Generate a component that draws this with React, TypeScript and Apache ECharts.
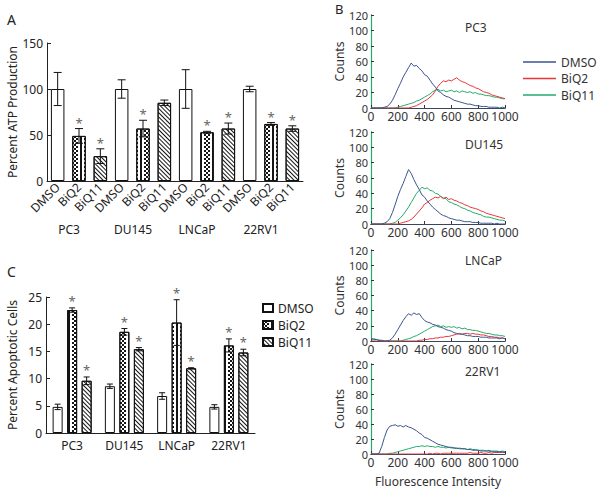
import React, { useEffect, useRef } from 'react';
import * as echarts from 'echarts';

const FONT = '"Noto Sans", sans-serif';
const INK = '#222';

// ---------- Panel A: ATP production ----------
const treatments = ['DMSO', 'BiQ2', 'BiQ11'];
const cellLines = ['PC3', 'DU145', 'LNCaP', '22RV1'];
const atpDMSO = [100, 100, 100, 100];
const atpDMSOErr = [18, 10, 21, 3];
const atpBiQ2 = [49, 57, 53, 62];
const atpBiQ2Err = [8, 9, 1, 1.5];
const atpBiQ11 = [27, 85, 57, 57];
const atpBiQ11Err = [8, 3, 6, 3];
const atpBiQ2Sig = [1, 1, 1, 1];
const atpBiQ11Sig = [1, 0, 1, 1];

// ---------- Panel C: apoptotic cells ----------
const apoDMSO = [4.8, 8.6, 6.8, 4.8];
const apoDMSOErr = [0.5, 0.4, 0.6, 0.4];
const apoBiQ2 = [22.6, 18.6, 20.3, 16.1];
const apoBiQ2Err = [0.4, 0.6, 4.2, 1.2];
const apoBiQ11 = [9.6, 15.4, 11.9, 14.8];
const apoBiQ11Err = [0.7, 0.3, 0.1, 0.6];

// ---------- Panel B: flow histograms ----------
const intensityBins = [0, 20, 40, 60, 80, 100, 120, 140, 160, 180, 200, 220, 240, 260, 280, 300, 320, 340, 360, 380, 400, 420, 440, 460, 480, 500, 520, 540, 560, 580, 600, 620, 640, 660, 680, 700, 720, 740, 760, 780, 800, 820, 840, 860, 880, 900, 920, 940, 960, 980, 1000];

const pc3DMSO = [0, 0, 0, 0, 0, 1, 2, 5, 10, 17, 25, 32, 40, 46, 52, 58, 54, 55, 51, 48, 43, 41, 36, 31, 27, 22, 20, 17, 15, 14, 12, 10, 9, 8, 7, 6, 5, 5, 4, 3, 3, 2, 2, 2, 1, 1, 1, 1, 0, 1, 0];
const pc3BiQ2 = [0, 0, 0, 0, 0, 0, 0, 0, 0, 0, 0, 0, 0, 0, 0, 1, 2, 3, 5, 7, 9, 11, 14, 17, 22, 28, 32, 35, 34, 36, 35, 37, 39, 36, 34, 33, 31, 29, 28, 26, 25, 23, 21, 20, 19, 17, 16, 15, 14, 13, 12];
const pc3BiQ11 = [0, 0, 0, 0, 0, 0, 0, 0, 0, 0, 1, 2, 3, 4, 5, 6, 7, 9, 10, 12, 14, 16, 18, 21, 23, 24, 22, 23, 21, 22, 23, 21, 22, 20, 22, 21, 20, 21, 19, 20, 18, 18, 17, 16, 16, 15, 14, 14, 13, 12, 12];

const du145DMSO = [0, 0, 0, 0, 0, 1, 3, 7, 15, 25, 36, 45, 53, 62, 71, 66, 58, 51, 45, 38, 35, 30, 26, 22, 19, 16, 13, 11, 10, 8, 7, 6, 5, 5, 4, 3, 3, 3, 2, 2, 2, 1, 1, 1, 1, 1, 0, 1, 0, 0, 0];
const du145BiQ2 = [0, 0, 0, 0, 0, 0, 0, 0, 0, 0, 0, 1, 2, 3, 4, 6, 9, 13, 17, 21, 26, 28, 31, 33, 35, 34, 36, 33, 35, 32, 33, 31, 30, 28, 27, 25, 24, 22, 21, 20, 19, 17, 16, 14, 13, 12, 11, 10, 9, 8, 7];
const du145BiQ11 = [0, 0, 0, 0, 0, 0, 0, 0, 1, 2, 5, 8, 12, 17, 22, 28, 34, 40, 44, 48, 46, 47, 44, 43, 40, 39, 36, 34, 33, 29, 28, 26, 25, 23, 21, 20, 18, 17, 15, 14, 13, 12, 10, 9, 9, 8, 7, 6, 5, 5, 4];

const lncapDMSO = [3, 2, 2, 1, 1, 0, 0, 1, 4, 9, 15, 21, 27, 32, 36, 34, 37, 35, 36, 31, 27, 25, 24, 22, 21, 19, 18, 17, 15, 14, 13, 11, 10, 9, 9, 8, 7, 7, 6, 6, 6, 5, 5, 5, 4, 4, 4, 4, 3, 4, 3];
const lncapBiQ2 = [0, 0, 0, 0, 0, 0, 0, 0, 0, 0, 0, 0, 0, 0, 0, 0, 0, 0, 1, 1, 2, 2, 3, 3, 4, 4, 5, 5, 6, 6, 7, 8, 9, 10, 9, 10, 10, 9, 10, 9, 9, 8, 8, 7, 6, 6, 5, 5, 4, 4, 3];
const lncapBiQ11 = [3, 3, 2, 1, 0, 0, 0, 0, 0, 0, 0, 0, 1, 2, 3, 4, 6, 7, 9, 11, 13, 15, 17, 19, 20, 21, 19, 20, 18, 19, 18, 19, 17, 18, 16, 17, 15, 15, 14, 14, 13, 12, 11, 10, 10, 9, 8, 8, 7, 7, 6];

const rv1DMSO = [0, 0, 0, 1, 10, 22, 32, 37, 38, 39, 37, 38, 36, 38, 36, 35, 33, 31, 28, 26, 22, 21, 19, 17, 15, 13, 12, 11, 10, 9, 9, 8, 8, 7, 7, 7, 6, 6, 5, 5, 5, 4, 4, 4, 4, 3, 3, 3, 3, 3, 2];
const rv1BiQ2 = [0, 0, 0, 0, 0, 0, 0, 0, 0, 0, 0, 0, 0, 0, 0, 0, 0, 0, 0, 0, 0, 0, 1, 0, 1, 1, 0, 1, 1, 1, 1, 1, 1, 1, 1, 1, 1, 2, 1, 1, 1, 2, 1, 1, 2, 1, 2, 2, 2, 2, 2];
const rv1BiQ11 = [0, 0, 0, 0, 0, 0, 0, 1, 1, 2, 3, 4, 5, 6, 7, 8, 9, 10, 10, 11, 10, 11, 10, 10, 9, 10, 9, 9, 8, 9, 8, 8, 7, 8, 7, 7, 6, 7, 6, 6, 5, 5, 5, 4, 5, 4, 4, 4, 3, 4, 3];

const histPanels = [
  { label: 'PC3', dmso: pc3DMSO, biq2: pc3BiQ2, biq11: pc3BiQ11 },
  { label: 'DU145', dmso: du145DMSO, biq2: du145BiQ2, biq11: du145BiQ11 },
  { label: 'LNCaP', dmso: lncapDMSO, biq2: lncapBiQ2, biq11: lncapBiQ11 },
  { label: '22RV1', dmso: rv1DMSO, biq2: rv1BiQ2, biq11: rv1BiQ11 },
];

const BLUE = '#3b5590';
const RED = '#e8353a';
const GREEN = '#22ac6b';

const checkDecal = {
  symbol: 'rect', symbolSize: 1, color: '#151515', backgroundColor: '#ffffff',
  dashArrayX: [[2, 1.5], [0, 1.75, 2, 1.25]], dashArrayY: [1.75, 0], rotation: 0,
};
const stripeDecal = {
  symbol: 'rect', symbolSize: 1, color: '#151515', backgroundColor: '#ffffff',
  dashArrayX: [1, 0], dashArrayY: [1, 1.5], rotation: Math.PI / 4,
};

function errRender(offset: number, cap: number, starGap: number) {
  return (params: any, api: any) => {
    const c = api.value(0);
    const top = api.coord([c, api.value(2)]);
    const bot = api.coord([c, api.value(1)]);
    const x = top[0] + offset;
    const ls = { stroke: '#111', lineWidth: 1 };
    const children: any[] = [
      { type: 'line', shape: { x1: x, y1: top[1], x2: x, y2: bot[1] }, style: ls },
      { type: 'line', shape: { x1: x - cap, y1: top[1], x2: x + cap, y2: top[1] }, style: ls },
      { type: 'line', shape: { x1: x - cap, y1: bot[1], x2: x + cap, y2: bot[1] }, style: ls },
    ];
    if (api.value(3)) {
      children.push({
        type: 'text',
        style: { text: '*', x, y: top[1] - starGap, align: 'center', verticalAlign: 'middle', fill: '#666', font: `13px ${FONT}` },
      });
    }
    return { type: 'group', children };
  };
}

function buildOption() {
  const atpCats: string[] = [];
  cellLines.forEach((cl) => treatments.forEach((t) => atpCats.push(cl + '|' + t)));
  const slot = (vals: number[], s: number) => atpCats.map((_, i) => (i % 3 === s ? vals[Math.floor(i / 3)] : '-'));

  const atpErrData: any[] = [];
  cellLines.forEach((_, g) => {
    atpErrData.push([g * 3, atpDMSO[g] - atpDMSOErr[g], atpDMSO[g] + atpDMSOErr[g], 0]);
    atpErrData.push([g * 3 + 1, atpBiQ2[g] - atpBiQ2Err[g], atpBiQ2[g] + atpBiQ2Err[g], atpBiQ2Sig[g]]);
    atpErrData.push([g * 3 + 2, atpBiQ11[g] - atpBiQ11Err[g], atpBiQ11[g] + atpBiQ11Err[g], atpBiQ11Sig[g]]);
  });

  const axLine = { show: true, lineStyle: { color: INK, width: 1 } };
  const lbl = { color: INK, fontFamily: FONT, fontSize: 12 };

  const grid: any[] = [
    { left: 47, top: 43, width: 256, height: 138 },
    { left: 46, top: 297, width: 209, height: 136 },
    { left: 371, top: 15, width: 134, height: 93 },
    { left: 371, top: 132, width: 134, height: 92 },
    { left: 371, top: 250, width: 134, height: 91 },
    { left: 371, top: 364, width: 134, height: 90 },
  ];

  const xAxis: any[] = [
    {
      type: 'category', gridIndex: 0, data: atpCats, axisLine: axLine, axisTick: { show: false },
      axisLabel: { ...lbl, rotate: 45, margin: 4, interval: 0, formatter: (v: string) => v.split('|')[1] },
    },
    {
      type: 'category', gridIndex: 0, data: cellLines, position: 'bottom', offset: 40,
      axisLine: { show: false }, axisTick: { show: false },
      axisLabel: { ...lbl, margin: 2, padding: [0, 20, 0, 0] },
    },
    {
      type: 'category', gridIndex: 1, data: cellLines, axisLine: axLine, axisTick: { show: false },
      axisLabel: { ...lbl, margin: 6 },
    },
  ];
  const yAxis: any[] = [
    {
      type: 'value', gridIndex: 0, min: 0, max: 150, interval: 50, axisLine: axLine,
      axisTick: { show: true, inside: true, length: 4, lineStyle: { color: INK } }, splitLine: { show: false },
      axisLabel: { ...lbl, margin: 4 },
      name: 'Percent ATP Production', nameLocation: 'middle', nameGap: 28, nameTextStyle: { ...lbl },
    },
    {
      type: 'value', gridIndex: 1, min: 0, max: 25, interval: 5, axisLine: axLine,
      axisTick: { show: true, inside: true, length: 4, lineStyle: { color: INK } }, splitLine: { show: false },
      axisLabel: { ...lbl, margin: 4 },
      name: 'Percent Apoptotic Cells', nameLocation: 'middle', nameGap: 28, nameTextStyle: { ...lbl },
    },
  ];

  const series: any[] = [
    { type: 'bar', name: 'ATP DMSO', xAxisIndex: 0, yAxisIndex: 0, data: slot(atpDMSO, 0), barWidth: 13.5, barGap: '-100%', itemStyle: { color: '#fff', borderColor: '#111', borderWidth: 1 } },
    { type: 'bar', name: 'ATP BiQ2', xAxisIndex: 0, yAxisIndex: 0, data: slot(atpBiQ2, 1), barWidth: 13.5, barGap: '-100%', itemStyle: { color: '#fff', borderColor: '#111', borderWidth: 1, decal: checkDecal } },
    { type: 'bar', name: 'ATP BiQ11', xAxisIndex: 0, yAxisIndex: 0, data: slot(atpBiQ11, 2), barWidth: 13.5, barGap: '-100%', itemStyle: { color: '#fff', borderColor: '#111', borderWidth: 1, decal: stripeDecal } },
    { type: 'custom', name: 'ATP err', xAxisIndex: 0, yAxisIndex: 0, data: atpErrData, encode: { x: 0, y: [1, 2] }, renderItem: errRender(0, 4, 6), z: 5 },

    { type: 'bar', name: 'DMSO', xAxisIndex: 2, yAxisIndex: 1, data: apoDMSO, barWidth: 10, barGap: '45%', itemStyle: { color: '#fff', borderColor: '#111', borderWidth: 1 } },
    { type: 'bar', name: 'BiQ2', xAxisIndex: 2, yAxisIndex: 1, data: apoBiQ2, barWidth: 10, barGap: '45%', itemStyle: { color: '#fff', borderColor: '#111', borderWidth: 1, decal: checkDecal } },
    { type: 'bar', name: 'BiQ11', xAxisIndex: 2, yAxisIndex: 1, data: apoBiQ11, barWidth: 10, barGap: '45%', itemStyle: { color: '#fff', borderColor: '#111', borderWidth: 1, decal: stripeDecal } },
    { type: 'custom', name: 'apo err DMSO', xAxisIndex: 2, yAxisIndex: 1, data: apoDMSO.map((v, i) => [i, v - apoDMSOErr[i], v + apoDMSOErr[i], 0]), encode: { x: 0, y: [1, 2] }, renderItem: errRender(-14.5, 3, 7), z: 5 },
    { type: 'custom', name: 'apo err BiQ2', xAxisIndex: 2, yAxisIndex: 1, data: apoBiQ2.map((v, i) => [i, v - apoBiQ2Err[i], v + apoBiQ2Err[i], 1]), encode: { x: 0, y: [1, 2] }, renderItem: errRender(0, 3, 7), z: 5 },
    { type: 'custom', name: 'apo err BiQ11', xAxisIndex: 2, yAxisIndex: 1, data: apoBiQ11.map((v, i) => [i, v - apoBiQ11Err[i], v + apoBiQ11Err[i], 1]), encode: { x: 0, y: [1, 2] }, renderItem: errRender(14.5, 3, 7), z: 5 },
  ];

  const graphic: any[] = [
    { type: 'text', left: 7, top: 12, style: { text: 'A', font: `14px ${FONT}`, fill: INK } },
    { type: 'text', left: 335, top: 2, style: { text: 'B', font: `13px ${FONT}`, fill: INK } },
    { type: 'text', left: 7, top: 264, style: { text: 'C', font: `14px ${FONT}`, fill: INK } },
  ];
  const labelTops = [21, 138, 254, 365];

  histPanels.forEach((p, k) => {
    const gi = 2 + k;
    const xb = xAxis.length;
    const yb = yAxis.length;
    const last = k === histPanels.length - 1;
    xAxis.push({
      type: 'value', gridIndex: gi, min: 0, max: 1000, interval: 200, position: 'bottom',
      axisLine: { show: true, lineStyle: { color: '#333' } },
      axisTick: { show: true, inside: true, length: 3, lineStyle: { color: '#333' } },
      splitLine: { show: false }, axisLabel: { ...lbl, color: '#333', margin: 2, formatter: (v: number) => String(v) },
      ...(last ? { name: 'Fluorescence Intensity', nameLocation: 'middle', nameGap: 21, nameTextStyle: { ...lbl, color: '#333' } } : {}),
    });
    xAxis.push({
      type: 'value', gridIndex: gi, min: 0, max: 1000, position: 'top',
      axisLine: { show: true, lineStyle: { color: '#3a4660' } }, axisTick: { show: false }, axisLabel: { show: false }, splitLine: { show: false },
    });
    yAxis.push({
      type: 'value', gridIndex: gi, min: 0, max: 120, interval: 20, position: 'left',
      axisLine: { show: true, lineStyle: { color: '#333' } },
      axisTick: { show: true, inside: true, length: 3, lineStyle: { color: '#333' } },
      splitLine: { show: false }, axisLabel: { ...lbl, fontSize: 11, color: '#333', margin: 3, lineHeight: 11 },
      name: 'Counts', nameLocation: 'middle', nameGap: 25, nameTextStyle: { ...lbl, color: '#333' },
    });
    yAxis.push({
      type: 'value', gridIndex: gi, min: 0, max: 120, position: 'right',
      axisLine: { show: true, lineStyle: { color: GREEN, width: 1.2 } }, axisTick: { show: false }, axisLabel: { show: false }, splitLine: { show: false },
    });
    const mk = (name: string, arr: number[], color: string) => ({
      type: 'line', name, xAxisIndex: xb, yAxisIndex: yb, showSymbol: false, symbol: 'none',
      data: intensityBins.map((x, i) => [x, arr[i]]),
      lineStyle: { color, width: 1 }, itemStyle: { color }, z: 3,
    });
    series.push(mk('BiQ11 ', p.biq11, GREEN));
    series.push(mk('BiQ2 ', p.biq2, RED));
    series.push(mk('DMSO ', p.dmso, BLUE));
    graphic.push({ type: 'text', left: 465, top: labelTops[k], style: { text: p.label, font: `12px ${FONT}`, fill: '#333' } });
  });

  return {
    animation: false,
    textStyle: { fontFamily: FONT },
    grid,
    xAxis,
    yAxis,
    series,
    graphic,
    legend: [
      {
        data: ['DMSO', 'BiQ2', 'BiQ11'], orient: 'vertical', left: 257, top: 296,
        itemWidth: 10, itemHeight: 8, itemGap: 3, icon: 'rect', selectedMode: false,
        textStyle: { ...lbl, lineHeight: 14 },
      },
      {
        data: ['DMSO ', 'BiQ2 ', 'BiQ11 '], orient: 'vertical', left: 518, top: 50,
        itemWidth: 33, itemHeight: 1.5, itemGap: 2.5, icon: 'rect', selectedMode: false,
        formatter: (n: string) => n.trim(),
        textStyle: { ...lbl, color: '#333', lineHeight: 14 },
      },
    ],
  };
}

export default function App() {
  const ref = useRef<HTMLDivElement>(null);
  useEffect(() => {
    const chart = echarts.init(ref.current as HTMLDivElement, null, { renderer: 'svg' });
    chart.setOption(buildOption() as any);
    return () => chart.dispose();
  }, []);
  return <div ref={ref} style={{ position: 'absolute', left: 0, top: 0, width: 600, height: 497 }} />;
}
